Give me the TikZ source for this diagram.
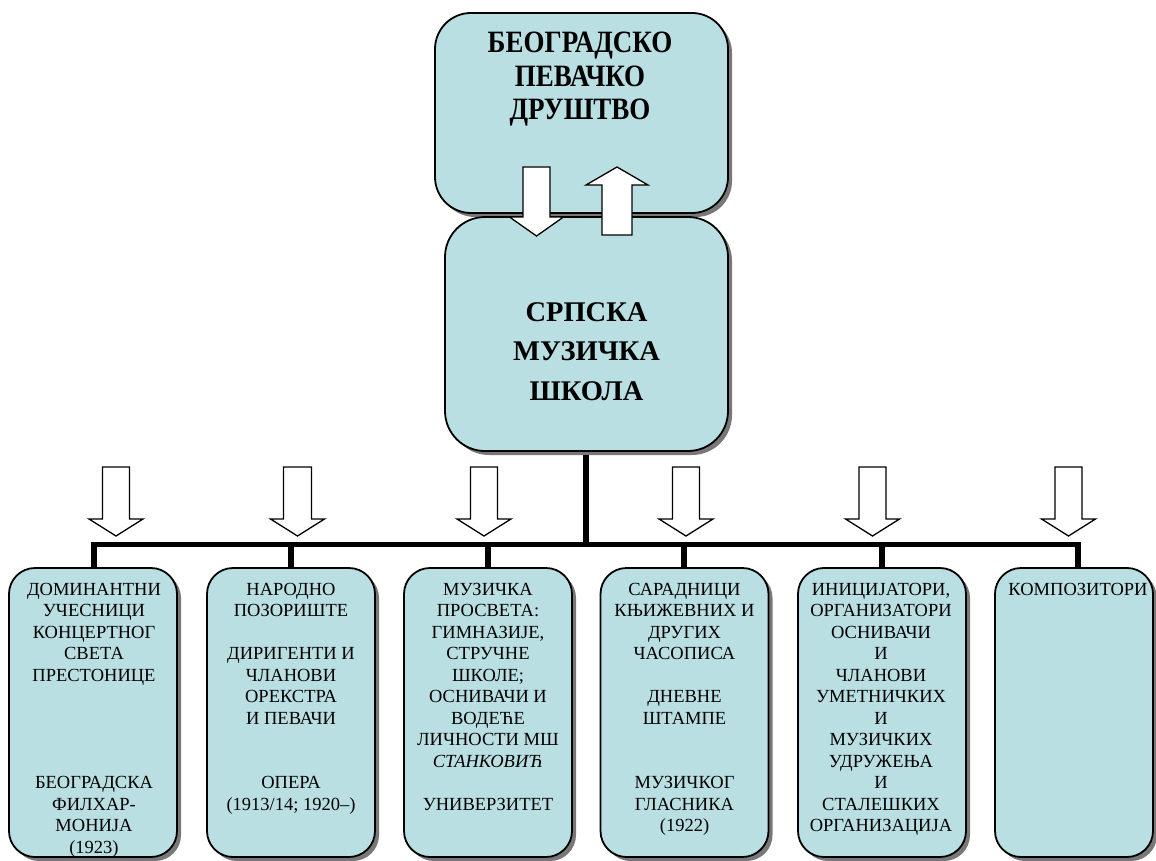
\documentclass[tikz,border=0pt]{standalone}
\usepackage{fontspec}
\setmainfont{Liberation Serif}
\usetikzlibrary{shadows}
\definecolor{boxfill}{RGB}{186,223,227}
\definecolor{shadegray}{RGB}{120,120,120}
\newcommand\blockdown[6]{% x, ytop, ybase, ytip, halfshaft, halfhead
  \draw[blockarrow] (#1-#5,#2) -- (#1+#5,#2) -- (#1+#5,#3) -- (#1+#6,#3) -- (#1,#4) -- (#1-#6,#3) -- (#1-#5,#3) -- cycle;}
\newcommand\blockup[6]{% x, ybottom, ybase, ytip, halfshaft, halfhead
  \draw[blockarrow] (#1-#5,#2) -- (#1+#5,#2) -- (#1+#5,#3) -- (#1+#6,#3) -- (#1,#4) -- (#1-#6,#3) -- (#1-#5,#3) -- cycle;}
\begin{document}
\begin{tikzpicture}[x=1pt,y=-1pt,
  box/.style={draw=black, line width=1.8pt, fill=boxfill, rounded corners=#1,
    inner sep=0pt, outer sep=0pt,
    drop shadow={shadow xshift=4pt, shadow yshift=-4pt, fill=shadegray, opacity=1}},
  lowbox/.style={box=26pt, minimum width=168pt, minimum height=289pt},
  lowtext/.style={anchor=north, align=center, inner sep=0pt, font=\fontsize{18.5}{21.5}\selectfont},
  bus/.style={line width=5.5pt, line join=miter, line cap=butt},
  blockarrow/.style={draw=black, fill=white, line width=1.3pt, line join=miter}]
\useasboundingbox (0,0) rectangle (1156,861);

% top boxes
\node[box=36pt, minimum width=293pt, minimum height=200pt] (bpd) at (581.5,113) {};
\begin{scope}[shift={(580,32)}, yscale=1.15]
\node[anchor=north, align=center, inner sep=0pt, transform shape, font=\fontsize{27}{29.2}\selectfont\bfseries]
  (bpdt) at (0,0) {БЕОГРАДСКО\\ПЕВАЧКО\\ДРУШТВО};
\end{scope}
\node[box=40pt, minimum width=283pt, minimum height=234pt] (sms) at (586.5,334) {};
\node[anchor=north, align=center, inner sep=0pt, font=\fontsize{28.5}{39.5}\selectfont\bfseries]
  (smst) at (586.5,302) {СРПСКА\\МУЗИЧКА\\ШКОЛА};

% lower boxes
\node[lowbox] (b1) at (93,712.5) {};
\node[lowbox] (b2) at (291,712.5) {};
\node[lowbox] (b3) at (488,712.5) {};
\node[lowbox] (b4) at (684.5,712.5) {};
\node[lowbox] (b5) at (882,712.5) {};
\node[box=26pt, minimum width=158pt, minimum height=289pt] (b6) at (1074,712.5) {};

% bus
\coordinate (d1) at (94,544.5);
\coordinate (d2) at (291,544.5);
\coordinate (d3) at (488,544.5);
\coordinate (d4) at (684,544.5);
\coordinate (d5) at (882,544.5);
\coordinate (d6) at (1078,544.5);
\draw[bus] (d1 |- b1.north) -- (d1) -- (d6) -- (d6 |- b6.north);
\draw[bus] (d2) -- (d2 |- b2.north);
\draw[bus] (d3) -- (d3 |- b3.north);
\draw[bus] (d4) -- (d4 |- b4.north);
\draw[bus] (d5) -- (d5 |- b5.north);
\draw[bus] (586,455) -- (586,544.5);

% texts in lower boxes
\node[lowtext] (t1) at (94,583) {ДОМИНАНТНИ\\УЧЕСНИЦИ\\КОНЦЕРТНОГ\\СВЕТА\\ПРЕСТОНИЦЕ\\[86pt]БЕОГРАДСКА\\ФИЛХАР-\\МОНИЈА\\(1923)};
\node[lowtext] (t2) at (291,583) {НАРОДНО\\ПОЗОРИШТЕ\\[21.5pt]ДИРИГЕНТИ И\\ЧЛАНОВИ\\ОРЕКСТРА\\И ПЕВАЧИ\\[43pt]ОПЕРА\\(1913/14; 1920–)};
\node[lowtext] (t3) at (488,583) {МУЗИЧКА\\ПРОСВЕТА:\\ГИМНАЗИЈЕ,\\СТРУЧНЕ\\ШКОЛЕ;\\ОСНИВАЧИ И\\ВОДЕЋЕ\\ЛИЧНОСТИ МШ\\\textit{СТАНКОВИЋ}\\[21.5pt]УНИВЕРЗИТЕТ};
\node[lowtext] (t4) at (684.5,583) {САРАДНИЦИ\\КЊИЖЕВНИХ И\\ДРУГИХ\\ЧАСОПИСА\\[21.5pt]ДНЕВНЕ\\ШТАМПЕ\\[43pt]МУЗИЧКОГ\\ГЛАСНИКА\\(1922)};
\node[lowtext] (t5) at (881,583) {ИНИЦИЈАТОРИ,\\ОРГАНИЗАТОРИ\\ОСНИВАЧИ\\И\\ЧЛАНОВИ\\УМЕТНИЧКИХ\\И\\МУЗИЧКИХ\\УДРУЖЕЊА\\И\\СТАЛЕШКИХ\\ОРГАНИЗАЦИЈА};
\node[lowtext] (t6) at (1078,583) {КОМПОЗИТОРИ};

% block arrows between top boxes
\blockdown{536.5}{167}{217}{236}{13.5}{27}
\blockup{617}{235}{185}{167}{15}{31}

% block arrows above bus
\blockdown{116}{467}{519}{536}{13.5}{27}
\blockdown{297.5}{467}{519}{536}{14}{27}
\blockdown{484}{467}{519}{536}{13.5}{27}
\blockdown{686}{467}{519}{536}{13.5}{27}
\blockdown{872.5}{467}{519}{536}{13.5}{27}
\blockdown{1068.5}{467}{519}{536}{13.5}{27}
\end{tikzpicture}
\end{document}
